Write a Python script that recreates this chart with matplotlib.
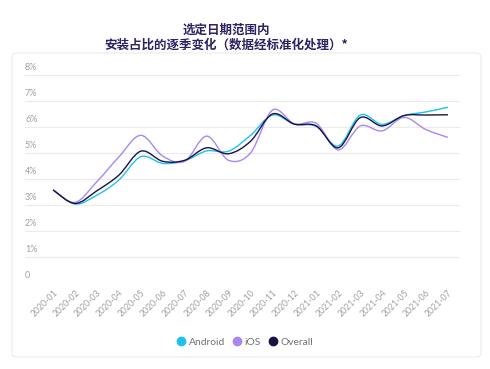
import matplotlib
matplotlib.use("Agg")
import matplotlib.pyplot as plt
from matplotlib.path import Path
from matplotlib.patches import PathPatch, FancyBboxPatch
from matplotlib.lines import Line2D

# Daten
months = ["2020-01", "2020-02", "2020-03", "2020-04", "2020-05", "2020-06", "2020-07",
          "2020-08", "2020-09", "2020-10", "2020-11", "2020-12", "2021-01", "2021-02",
          "2021-03", "2021-04", "2021-05", "2021-06", "2021-07"]
android = [3.58, 3.04, 3.38, 3.96, 4.86, 4.60, 4.70, 5.08, 5.07, 5.68, 6.46, 6.11, 6.02,
           5.27, 6.46, 6.10, 6.44, 6.58, 6.76]
ios = [3.58, 3.10, 3.90, 4.85, 5.68, 4.88, 4.68, 5.65, 4.72, 5.00, 6.65, 6.12, 6.14,
       5.12, 6.04, 5.85, 6.37, 5.90, 5.60]
overall = [3.58, 3.06, 3.55, 4.15, 5.07, 4.68, 4.72, 5.20, 4.97, 5.45, 6.50, 6.11, 6.04,
           5.20, 6.36, 6.04, 6.44, 6.46, 6.47]
y_ticks = [0, 1, 2, 3, 4, 5, 6, 7, 8]
y_labels = ["0", "1%", "2%", "3%", "4%", "5%", "6%", "7%", "8%"]

series = [("Android", android, "#1cc3ec"),
          ("iOS", ios, "#a987f2"),
          ("Overall", overall, "#1b1145")]


def smooth_path(xs, ys):
    # Catmull-Rom als Bezier-Kurve, nur zur Darstellung
    pts = list(zip(xs, ys))
    verts = [pts[0]]
    codes = [Path.MOVETO]
    n = len(pts)
    for i in range(n - 1):
        p0 = pts[i - 1] if i > 0 else pts[i]
        p1 = pts[i]
        p2 = pts[i + 1]
        p3 = pts[i + 2] if i + 2 < n else pts[i + 1]
        c1 = (p1[0] + (p2[0] - p0[0]) / 6, p1[1] + (p2[1] - p0[1]) / 6)
        c2 = (p2[0] - (p3[0] - p1[0]) / 6, p2[1] - (p3[1] - p1[1]) / 6)
        verts += [c1, c2, p2]
        codes += [Path.CURVE4] * 3
    return Path(verts, codes)


plt.rcParams["font.family"] = ["Lato", "Noto Sans CJK SC", "DejaVu Sans"]

fig = plt.figure(figsize=(4.9, 3.69), dpi=100)
W, H = 490, 369

# Karte im Hintergrund
card = FancyBboxPatch((12 / W, 1 - 357 / H), 469 / W, 304 / H,
                      boxstyle="round,pad=0,rounding_size=0.01",
                      transform=fig.transFigure, facecolor="white",
                      edgecolor="#ececec", linewidth=0.8, zorder=-5)
fig.patches.append(card)

fig.text(226 / W, 1 - 30 / H, "选定日期范围内", ha="center", va="center",
         fontsize=9, fontweight="bold", color="#2e2262",
         family=["Noto Sans CJK SC", "DejaVu Sans"])
fig.text(226 / W, 1 - 45 / H, "安装占比的逐季变化（数据经标准化处理）*", ha="center", va="center",
         fontsize=9, fontweight="bold", color="#2e2262",
         family=["Noto Sans CJK SC", "DejaVu Sans"])

ax = fig.add_axes([25 / W, 1 - 283 / H, 435 / W, 208 / H])
ax.set_facecolor("none")
x = list(range(len(months)))
ax.set_xlim(-1.28, 18.55)
ax.set_ylim(0, 8)

for yt, lab in zip(y_ticks, y_labels):
    ax.axhline(yt, color="#ebebeb", linewidth=0.8, zorder=1)
    ax.text(0.0, yt + 0.12, lab, transform=ax.get_yaxis_transform(),
            ha="left", va="bottom", fontsize=6.5, color="#a0a0a0")

for name, vals, col in series:
    ax.add_patch(PathPatch(smooth_path(x, vals), facecolor="none", edgecolor=col,
                           linewidth=1.0, zorder=3))

ax.set_yticks([])
ax.set_xticks(x)
ax.set_xticklabels(months, rotation=45, ha="right", rotation_mode="anchor",
                   fontsize=6.3, color="#a0a0a0")
ax.tick_params(axis="x", length=0, pad=4)
for s in ax.spines.values():
    s.set_visible(False)

handles = [Line2D([], [], marker="o", linestyle="none", markersize=6,
                  markerfacecolor=c, markeredgecolor=c, label=n) for n, _, c in series]
fig.legend(handles=handles, loc="center", bbox_to_anchor=(244 / W, 1 - 342 / H),
           ncol=3, frameon=False, fontsize=7.4, labelcolor="#707070",
           handletextpad=0.1, columnspacing=0.6, handlelength=1.2)

fig.savefig("out.png", dpi=100)
